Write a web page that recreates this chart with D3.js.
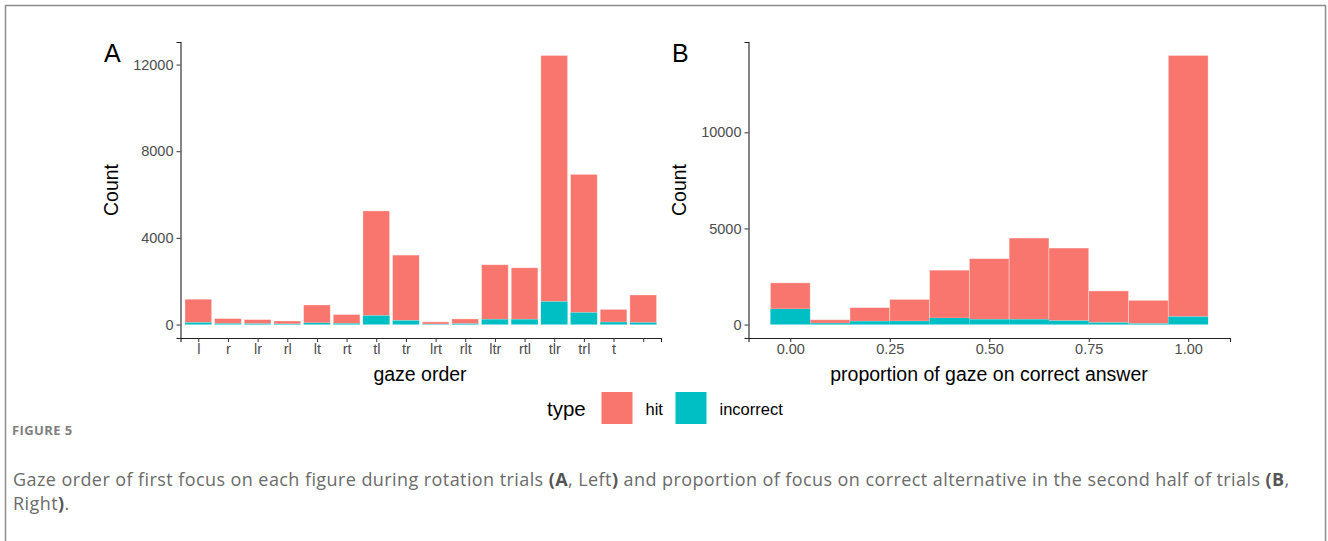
<!DOCTYPE html>
<html>
<head>
<meta charset="utf-8">
<script src="https://cdn.jsdelivr.net/npm/d3@7"></script>
<style>
  body { margin: 0; background: #fff; }
  svg text { font-family: "Liberation Sans", Arial, sans-serif; }
</style>
</head>
<body>
<div id="viz-container"></div>
<script>
// panel A data: gaze order counts
let orders = ["l", "r", "lr", "rl", "lt", "rt", "tl", "tr", "lrt", "rlt", "ltr", "rtl", "tlr", "trl", "t", ""];
let ordersTotal = [1170, 276, 230, 165, 905, 465, 5245, 3206, 123, 261, 2760, 2622, 12420, 6932, 700, 1365];
let ordersIncorrect = [92, 46, 40, 30, 77, 50, 414, 184, 20, 40, 240, 240, 1058, 552, 110, 90];

// panel B data: proportion of gaze on correct answer (bins of 0.1)
let bins = [0, 0.1, 0.2, 0.3, 0.4, 0.5, 0.6, 0.7, 0.8, 0.9, 1.0];
let binsTotal = [2170, 250, 880, 1310, 2830, 3430, 4500, 3980, 1750, 1260, 14000];
let binsIncorrect = [810, 70, 170, 180, 340, 270, 270, 200, 100, 50, 410];

let types = ["hit", "incorrect"];
let typeColors = ["#F8766D", "#00BFC4"];

let yTicksA = [0, 4000, 8000, 12000];
let yTicksB = [0, 5000, 10000];
let xTicksB = [0, 0.25, 0.5, 0.75, 1.0];

let viz = d3.select("#viz-container")
  .append("svg")
    .attr("width", 1328)
    .attr("height", 541)
;

// outer frame
viz.append("rect")
  .attr("x", 5.5)
  .attr("y", 5.5)
  .attr("width", 1320)
  .attr("height", 560)
  .attr("fill", "none")
  .attr("stroke", "#8c8c8c")
  .attr("stroke-width", 1.5)
;

let color = d3.scaleOrdinal().domain(types).range(typeColors);

// ggplot-ish look for the axes
function styleAxis(g){
  g.select(".domain").attr("stroke", "#222").attr("stroke-width", 1.1);
  g.selectAll(".tick line").attr("stroke", "#333");
  g.selectAll(".tick text")
    .attr("fill", "#4d4d4d")
    .attr("font-size", 14.5)
    .attr("font-family", "'Liberation Sans', Arial, sans-serif");
}

//---------- panel A ----------
let maxA = d3.max(ordersTotal);
let xA = d3.scalePoint().domain(orders).range([180.5, 661]).padding(0.6);
let yA = d3.scaleLinear().domain([-0.05 * maxA, 1.05 * maxA]).range([338, 42]);
let bwA = xA.step() * 0.9;

let dataA = orders.map(function(o, i){
  return {key: o, total: ordersTotal[i], incorrect: ordersIncorrect[i]};
});

let gA = viz.append("g");
gA.selectAll(".hitA").data(dataA).enter()
  .append("rect")
    .attr("x", d => xA(d.key) - bwA / 2)
    .attr("y", d => yA(d.total))
    .attr("width", bwA)
    .attr("height", d => yA(d.incorrect) - yA(d.total))
    .attr("fill", color("hit"))
    .attr("stroke", "rgba(255,255,255,0.45)")
    .attr("stroke-width", 0.8)
;
gA.selectAll(".incA").data(dataA).enter()
  .append("rect")
    .attr("x", d => xA(d.key) - bwA / 2)
    .attr("y", d => yA(d.incorrect))
    .attr("width", bwA)
    .attr("height", d => yA(0) - yA(d.incorrect))
    .attr("fill", color("incorrect"))
;

gA.append("g")
  .attr("transform", "translate(180.5,0)")
  .call(d3.axisLeft(yA).tickValues(yTicksA).tickSizeOuter(0).tickSize(4).tickPadding(3).tickFormat(d3.format("d")))
  .call(styleAxis);
gA.append("g")
  .attr("transform", "translate(0,338)")
  .call(d3.axisBottom(xA).tickSizeOuter(0).tickSize(4).tickPadding(2))
  .call(styleAxis);

gA.append("text")
  .text("Count")
  .attr("transform", "translate(118,190) rotate(-90)")
  .attr("text-anchor", "middle")
  .attr("font-size", 19.5)
;
gA.append("text")
  .text("gaze order")
  .attr("x", 420)
  .attr("y", 381)
  .attr("text-anchor", "middle")
  .attr("font-size", 19.5)
;
gA.append("text")
  .text("A")
  .attr("x", 104)
  .attr("y", 62)
  .attr("font-size", 25)
;

//---------- panel B ----------
let maxB = d3.max(binsTotal);
let xB = d3.scaleLinear().domain([-0.105, 1.105]).range([748.5, 1230]);
let yB = d3.scaleLinear().domain([-0.05 * maxB, 1.05 * maxB]).range([338, 42]);

let dataB = bins.map(function(b, i){
  return {key: b, total: binsTotal[i], incorrect: binsIncorrect[i]};
});

let gB = viz.append("g");
gB.selectAll(".hitB").data(dataB).enter()
  .append("rect")
    .attr("x", d => xB(d.key - 0.05))
    .attr("y", d => yB(d.total))
    .attr("width", d => xB(d.key + 0.05) - xB(d.key - 0.05))
    .attr("height", d => yB(d.incorrect) - yB(d.total))
    .attr("fill", color("hit"))
    .attr("stroke", "rgba(255,255,255,0.45)")
    .attr("stroke-width", 0.8)
;
gB.selectAll(".incB").data(dataB).enter()
  .append("rect")
    .attr("x", d => xB(d.key - 0.05))
    .attr("y", d => yB(d.incorrect))
    .attr("width", d => xB(d.key + 0.05) - xB(d.key - 0.05))
    .attr("height", d => yB(0) - yB(d.incorrect))
    .attr("fill", color("incorrect"))
;

gB.append("g")
  .attr("transform", "translate(748.5,0)")
  .call(d3.axisLeft(yB).tickValues(yTicksB).tickSizeOuter(0).tickSize(4).tickPadding(3).tickFormat(d3.format("d")))
  .call(styleAxis);
gB.append("g")
  .attr("transform", "translate(0,338)")
  .call(d3.axisBottom(xB).tickValues(xTicksB).tickSizeOuter(0).tickSize(4).tickPadding(2).tickFormat(d3.format(".2f")))
  .call(styleAxis);

gB.append("text")
  .text("Count")
  .attr("transform", "translate(686,190) rotate(-90)")
  .attr("text-anchor", "middle")
  .attr("font-size", 19.5)
;
gB.append("text")
  .text("proportion of gaze on correct answer")
  .attr("x", 989)
  .attr("y", 381)
  .attr("text-anchor", "middle")
  .attr("font-size", 19.5)
;
gB.append("text")
  .text("B")
  .attr("x", 672)
  .attr("y", 62)
  .attr("font-size", 25)
;

//---------- legend ----------
let legend = viz.append("g");
legend.append("text")
  .text("type")
  .attr("x", 547)
  .attr("y", 416)
  .attr("font-size", 20.5)
;
let legendX = [601.5, 675.5];
let items = legend.selectAll(".item").data(types).enter()
  .append("g")
    .attr("transform", (d, i) => "translate(" + legendX[i] + ",392)")
;
items.append("rect")
  .attr("width", 31)
  .attr("height", 32)
  .attr("fill", d => color(d))
;
items.append("text")
  .text(d => d)
  .attr("x", 44)
  .attr("y", 22.5)
  .attr("font-size", 16.5)
;

//---------- caption ----------
let capFont = "'Open Sans', 'Noto Sans', sans-serif";
viz.append("text")
  .text("FIGURE 5")
  .attr("x", 12)
  .attr("y", 435)
  .attr("font-size", 13)
  .attr("font-weight", "bold")
  .attr("letter-spacing", 0.4)
  .attr("fill", "#808080")
  .style("font-family", capFont)
;
let line1 = viz.append("text")
  .attr("x", 13)
  .attr("y", 486)
  .attr("font-size", 18)
  .attr("letter-spacing", 0.42)
  .attr("fill", "#6b6b6b")
  .style("font-family", capFont)
;
line1.append("tspan").text("Gaze order of first focus on each figure during rotation trials ");
line1.append("tspan").text("(A").attr("font-weight", "bold").attr("fill", "#555");
line1.append("tspan").text(", Left");
line1.append("tspan").text(")").attr("font-weight", "bold").attr("fill", "#555");
line1.append("tspan").text(" and proportion of focus on correct alternative in the second half of trials ");
line1.append("tspan").text("(B").attr("font-weight", "bold").attr("fill", "#555");
line1.append("tspan").text(",");
let line2 = viz.append("text")
  .attr("x", 13)
  .attr("y", 510)
  .attr("font-size", 18)
  .attr("letter-spacing", 0.42)
  .attr("fill", "#6b6b6b")
  .style("font-family", capFont)
;
line2.append("tspan").text("Right");
line2.append("tspan").text(")").attr("font-weight", "bold").attr("fill", "#555");
line2.append("tspan").text(".");
</script>
</body>
</html>
